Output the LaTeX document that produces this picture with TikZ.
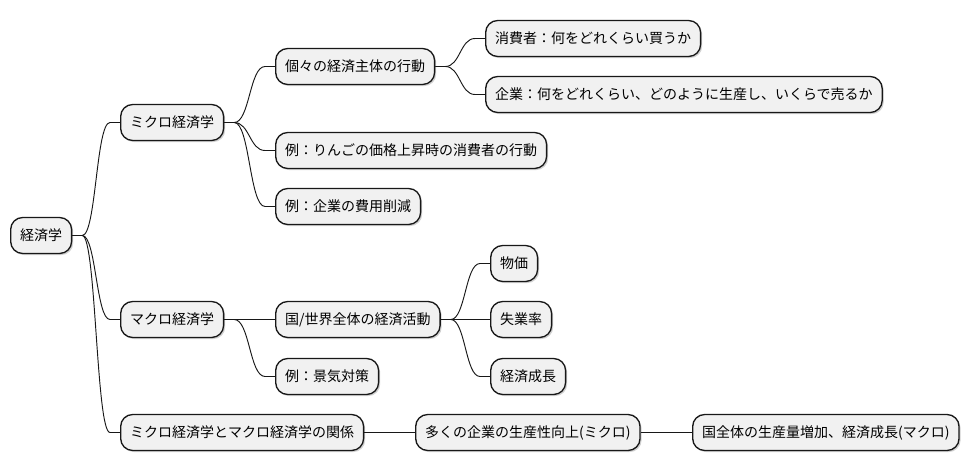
\documentclass[tikz,border=0pt]{standalone}
\usepackage{fontspec}
\setmainfont{Noto Sans CJK JP}
\usetikzlibrary{calc,shadows}
\definecolor{nodefill}{HTML}{F1F1F1}
\definecolor{nodeline}{HTML}{181818}
\tikzset{
  mm/.style={draw=nodeline, fill=nodefill, line width=1pt, rounded corners=9pt,
    anchor=west, minimum height=27pt, inner xsep=7.1pt, inner ysep=0pt,
    text height=9.1pt, text depth=1.4pt,
    font=\fontsize{10.5}{12.6}\selectfont,
    drop shadow={shadow xshift=1.2pt, shadow yshift=-1.2pt, fill=black, opacity=0.18}},
  edge/.style={draw=nodeline, line width=0.7pt}
}
\newcommand\mmlink[2]{%
  \draw[edge] let \p1=(#1.east), \p2=(#2.west) in
    (\p1) -- ({\x1+7.5pt},\y1)
    .. controls ({(\x1+\x2)/2},\y1) and ({(\x1+\x2)/2},\y2) ..
    ({\x2-7.5pt},\y2) -- (\p2);}
\begin{document}
\begin{tikzpicture}[x=0.75pt,y=-0.75pt]
\useasboundingbox[fill=white] (0,0) rectangle (972,471);
\node[mm] (root) at (10,235.5) {経済学};
\node[mm] (micro) at (120,122.5) {ミクロ経済学};
\node[mm] (macro) at (120,319.5) {マクロ経済学};
\node[mm] (rel) at (120,432.5) {ミクロ経済学とマクロ経済学の関係};
\node[mm] (indiv) at (275,66.5) {個々の経済主体の行動};
\node[mm] (ex1) at (275,150.5) {例：りんごの価格上昇時の消費者の行動};
\node[mm] (ex2) at (275,206.5) {例：企業の費用削減};
\node[mm] (cons) at (485,38.5) {消費者：何をどれくらい買うか};
\node[mm] (firm) at (485,94.5) {企業：何をどれくらい、どのように生産し、いくらで売るか};
\node[mm] (nat) at (275,319.5) {国/世界全体の経済活動};
\node[mm] (ex3) at (275,376.5) {例：景気対策};
\node[mm] (price) at (490,263.5) {物価};
\node[mm] (unemp) at (490,319.5) {失業率};
\node[mm] (growth) at (490,376.5) {経済成長};
\node[mm] (prod) at (415,432.5) {多くの企業の生産性向上(ミクロ)};
\node[mm] (out) at (692,432.5) {国全体の生産量増加、経済成長(マクロ)};
\mmlink{root}{micro}
\mmlink{root}{macro}
\mmlink{root}{rel}
\mmlink{micro}{indiv}
\mmlink{micro}{ex1}
\mmlink{micro}{ex2}
\mmlink{indiv}{cons}
\mmlink{indiv}{firm}
\mmlink{macro}{nat}
\mmlink{macro}{ex3}
\mmlink{nat}{price}
\mmlink{nat}{unemp}
\mmlink{nat}{growth}
\mmlink{rel}{prod}
\mmlink{prod}{out}
\end{tikzpicture}
\end{document}
